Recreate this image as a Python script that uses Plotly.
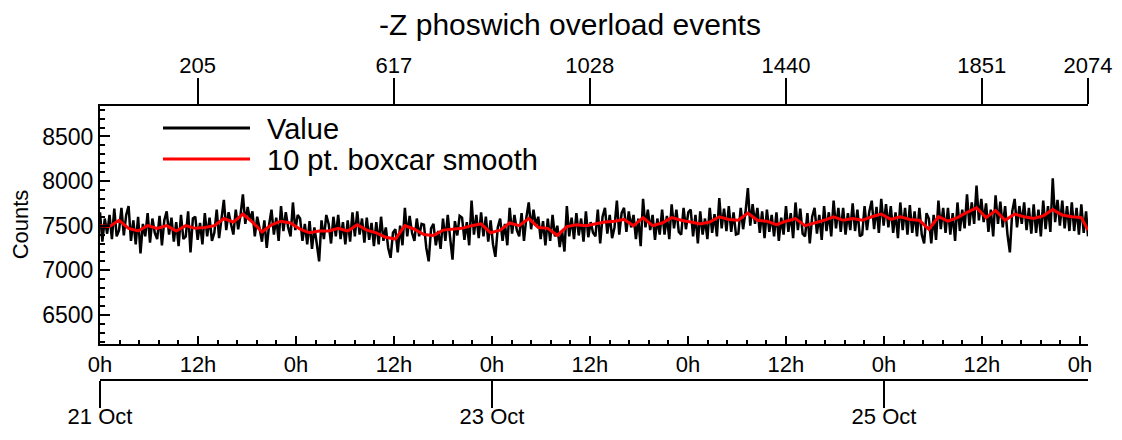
import plotly.graph_objects as go
import pandas as pd

title_text = "-Z phoswich overload events"
start = pd.Timestamp("2012-10-21 00:00")
sample_minutes = 3.5
last_index = 2074

raw_index = list(range(0, 2071, 5)) + [2074]
raw_counts = [
    7650, 7320, 7580, 7410, 7620, 7350, 7690, 7380, 7450, 7700, 7390, 7620,
    7720, 7330, 7560, 7290, 7600, 7190, 7520, 7380, 7640, 7310, 7580, 7420,
    7350, 7610, 7280, 7560, 7660, 7400, 7590, 7320, 7540, 7270, 7620, 7350,
    7380, 7660, 7200, 7580, 7600, 7340, 7530, 7290, 7640, 7380, 7590, 7330,
    7420, 7680, 7360, 7610, 7790, 7450, 7650, 7520, 7400, 7680, 7460, 7620,
    7850, 7520, 7710, 7560, 7660, 7380, 7600, 7470, 7320, 7560, 7250, 7510,
    7680, 7400, 7590, 7330, 7720, 7440, 7650, 7480, 7380, 7760, 7450, 7620,
    7580, 7330, 7520, 7290, 7550, 7240, 7480, 7300, 7100, 7560, 7350, 7620,
    7520, 7300, 7600, 7380, 7620, 7350, 7540, 7290, 7560, 7320, 7650, 7380,
    7660, 7400, 7580, 7310, 7590, 7340, 7530, 7270, 7540, 7290, 7600, 7330,
    7480, 7250, 7140, 7420, 7460, 7200, 7500, 7280, 7700, 7380, 7610, 7420,
    7330, 7580, 7380, 7520, 7510, 7250, 7100, 7470, 7520, 7280, 7440, 7240,
    7580, 7330, 7620, 7360, 7120, 7550, 7390, 7610, 7590, 7340, 7540, 7280,
    7780, 7400, 7620, 7360, 7650, 7380, 7600, 7320, 7560, 7290, 7150, 7480,
    7580, 7330, 7520, 7280, 7700, 7410, 7620, 7450, 7380, 7640, 7330, 7590,
    7760, 7460, 7680, 7500, 7600, 7350, 7550, 7280, 7580, 7330, 7620, 7380,
    7500, 7260, 7440, 7210, 7720, 7380, 7590, 7350, 7640, 7390, 7580, 7320,
    7660, 7370, 7540, 7420, 7380, 7680, 7300, 7600, 7700, 7410, 7620, 7360,
    7480, 7780, 7400, 7640, 7700, 7430, 7660, 7480, 7620, 7350, 7580, 7270,
    7800, 7480, 7680, 7450, 7620, 7340, 7580, 7400, 7680, 7400, 7610, 7350,
    7740, 7470, 7680, 7430, 7400, 7700, 7460, 7650, 7680, 7380, 7620, 7300,
    7660, 7400, 7580, 7350, 7700, 7420, 7630, 7380, 7810, 7470, 7690, 7440,
    7720, 7430, 7650, 7400, 7410, 7700, 7460, 7650, 7920, 7500, 7740, 7520,
    7700, 7420, 7660, 7360, 7680, 7430, 7620, 7380, 7650, 7330, 7590, 7400,
    7720, 7430, 7640, 7360, 7760, 7450, 7690, 7410, 7380, 7640, 7300, 7600,
    7700, 7410, 7620, 7340, 7720, 7440, 7650, 7380, 7780, 7470, 7700, 7430,
    7700, 7400, 7640, 7450, 7750, 7440, 7680, 7380, 7400, 7720, 7450, 7660,
    7780, 7460, 7710, 7420, 7800, 7500, 7740, 7480, 7720, 7420, 7650, 7360,
    7760, 7450, 7700, 7400, 7730, 7420, 7660, 7380, 7700, 7400, 7300, 7640,
    7580, 7300, 7620, 7340, 7780, 7460, 7700, 7420, 7700, 7400, 7640, 7330,
    7760, 7440, 7680, 7470, 7850, 7500, 7760, 7520, 7950, 7560, 7800, 7540,
    7750, 7430, 7680, 7380, 7840, 7520, 7770, 7480, 7720, 7400, 7200, 7660,
    7800, 7480, 7720, 7520, 7760, 7450, 7700, 7410, 7740, 7420, 7680, 7380,
    7780, 7460, 7720, 7430, 8030, 7540, 7790, 7500, 7780, 7470, 7720, 7440,
    7760, 7440, 7700, 7400, 7740, 7420, 7660, 7380,
]

smooth_index = list(range(0, 2061, 20)) + [2074]
smooth_counts = [
    7500, 7490, 7560, 7470, 7440, 7500, 7470, 7500, 7440, 7500, 7470, 7480,
    7500, 7580, 7540, 7630, 7540, 7430, 7510, 7550, 7530, 7460, 7420, 7440,
    7440, 7470, 7440, 7510, 7450, 7420, 7370, 7350, 7500, 7460, 7400, 7390,
    7450, 7460, 7470, 7500, 7520, 7420, 7450, 7530, 7500, 7580, 7480, 7470,
    7390, 7490, 7510, 7500, 7520, 7540, 7550, 7570, 7500, 7590, 7500, 7530,
    7590, 7560, 7540, 7520, 7540, 7600, 7570, 7560, 7640, 7560, 7550, 7510,
    7550, 7580, 7500, 7530, 7560, 7600, 7560, 7580, 7560, 7600, 7630, 7570,
    7600, 7570, 7560, 7460, 7600, 7550, 7590, 7650, 7700, 7590, 7670, 7560,
    7630, 7600, 7580, 7610, 7680, 7620, 7600, 7590, 7450,
]

top_ticks = [205, 617, 1028, 1440, 1851, 2074]
hour_ticks = pd.date_range("2012-10-21", "2012-10-26", freq="12h")
hour_labels = ["0h" if t.hour == 0 else "12h" for t in hour_ticks]
date_ticks = list(pd.to_datetime(["2012-10-21", "2012-10-23", "2012-10-25"]))
date_labels = ["21 Oct", "23 Oct", "25 Oct"]
y_ticks = [6500, 7000, 7500, 8000, 8500]
legend_names = ["Value", "10 pt. boxcar smooth"]
legend_colors = ["black", "#ff0000"]


def to_time(idx):
    return [start + pd.Timedelta(minutes=i * sample_minutes) for i in idx]


t_end = start + pd.Timedelta(minutes=last_index * sample_minutes)

# page body has an 8px margin: the figure is sized to fit the 1122x440 window
OFF = 8
W, H = 1122 - 2 * OFF, 440 - 2 * OFF
ref_left, ref_right = 100, 1088
L, R = ref_left - OFF, W - (ref_right - OFF)
plot_top, plot_bot = 105.5, 343.5
date_axis_y = 380


def py(ref_px):
    return 1 - (ref_px - OFF) / H


def px_x(ref_px):
    return (ref_px - ref_left) / (ref_right - ref_left)


FONT = "Liberation Sans, Arial, sans-serif"

fig = go.Figure()
fig.add_trace(go.Scatter(x=to_time(raw_index), y=raw_counts, mode="lines",
                         name=legend_names[0], showlegend=False,
                         line=dict(color=legend_colors[0], width=2.5)))
fig.add_trace(go.Scatter(x=to_time(smooth_index), y=smooth_counts, mode="lines",
                         name=legend_names[1], showlegend=False,
                         line=dict(color=legend_colors[1], width=3)))
# anchors for the sample-number axis (top) and the date axis (bottom)
fig.add_trace(go.Scatter(x=top_ticks, y=[None] * len(top_ticks), xaxis="x2",
                         mode="lines", showlegend=False, hoverinfo="skip"))
fig.add_trace(go.Scatter(x=date_ticks, y=[None] * len(date_ticks), xaxis="x3",
                         mode="lines", showlegend=False, hoverinfo="skip"))

axis_common = dict(showline=True, linecolor="black", linewidth=2, showgrid=False,
                   zeroline=False, tickcolor="black", tickwidth=2)
xfont = dict(size=22, color="black", family=FONT)

fig.update_layout(
    width=W, height=H, autosize=False,
    margin=dict(l=L, r=R, t=0, b=0, autoexpand=False),
    paper_bgcolor="white", plot_bgcolor="white",
    font=dict(family=FONT, color="black"),
    title=dict(text=title_text, x=(570 - OFF) / W, xref="container", xanchor="center",
               y=py(24), yref="container", yanchor="middle",
               font=dict(size=30, color="black", family=FONT)),
    xaxis=dict(type="date", range=[start, t_end], anchor="y", side="bottom",
               tickmode="array", tickvals=list(hour_ticks), ticktext=hour_labels,
               ticks="inside", ticklen=8, tickfont=xfont,
               minor=dict(ticks="inside", ticklen=4, dtick=144 * 60 * 1000,
                          tick0=start, tickcolor="black", tickwidth=2),
               **axis_common),
    xaxis2=dict(range=[0, last_index], overlaying="x", anchor="y", side="top",
                tickmode="array", tickvals=top_ticks,
                ticktext=[str(v) for v in top_ticks],
                ticks="outside", ticklen=26, tickfont=xfont,
                ticklabelstandoff=-4, **axis_common),
    xaxis3=dict(type="date", range=[start, t_end], overlaying="x", anchor="free",
                position=py(date_axis_y), side="bottom",
                tickmode="array", tickvals=date_ticks, ticktext=date_labels,
                ticks="outside", ticklen=27, tickfont=xfont,
                ticklabelstandoff=-10, **axis_common),
    yaxis=dict(domain=[py(plot_bot), py(plot_top)], range=[6179, 8847],
               tickmode="array", tickvals=y_ticks,
               ticks="inside", ticklen=10,
               tickfont=dict(size=23, color="black", family=FONT),
               minor=dict(ticks="inside", ticklen=5, dtick=100, tick0=6500,
                          tickcolor="black", tickwidth=2),
               title=dict(text="Counts", font=dict(size=22, color="black", family=FONT),
                          standoff=20),
               **axis_common),
    showlegend=False,
)

# legend drawn as key lines with text labels
legend_rows = [128, 159]
for name, color, row in zip(legend_names, legend_colors, legend_rows):
    fig.add_shape(type="line", xref="paper", yref="paper",
                  x0=px_x(163), x1=px_x(250), y0=py(row), y1=py(row),
                  line=dict(color=color, width=3))
    fig.add_annotation(text=name, xref="paper", yref="paper",
                       x=px_x(265), y=py(row + 1), xanchor="left", yanchor="middle",
                       showarrow=False,
                       font=dict(size=29, color="black", family=FONT))

fig.write_html("out.html")
